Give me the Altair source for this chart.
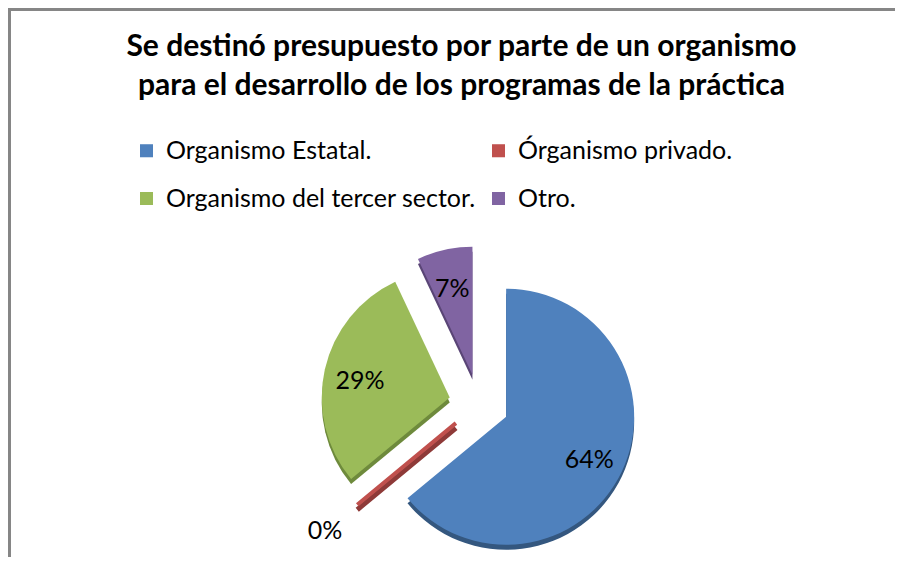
import altair as alt
import pandas as pd

# ---- data ----
categories = ["Organismo Estatal.", "Órganismo privado.", "Organismo del tercer sector.", "Otro."]
values = [64, 0, 29, 7]
labels = ["64%", "0%", "29%", "7%"]
colors = ["#4F81BD", "#C0504D", "#9BBB59", "#8064A2"]
shades = ["#34577F", "#8E3A38", "#6E8A3C", "#5A4576"]

title_lines = [
    "Se destinó presupuesto por parte de un organismo",
    "para el desarrollo de los programas de la práctica",
]

df = pd.DataFrame({
    "cat": categories,
    "value": values,
    "label": labels,
    "idx": list(range(len(categories))),
    "fillc": colors,
    "shade": shades,
})

# ---- layout / style ----
W, H = 887, 549
CX, CY = 471, 396
R = 128
EXPLODE = 30
LABEL_R = 92
OUT_R = 200
DEPTH = 5

base = (
    alt.Chart(df)
    .transform_window(cum="sum(value)", sort=[alt.SortField("idx")], frame=[None, 0])
    .transform_joinaggregate(total="sum(value)")
    .transform_calculate(
        t1="2*PI*datum.cum/datum.total",
        t0="2*PI*(datum.cum-datum.value)/datum.total",
    )
    .transform_calculate(mid="(datum.t0+datum.t1)/2")
    .transform_calculate(
        px=f"{CX}+{EXPLODE}*sin(datum.mid)",
        py=f"{CY}-{EXPLODE}*cos(datum.mid)",
    )
    .transform_calculate(
        pyd=f"datum.py+{DEPTH}",
        lx=f"datum.value>0 ? datum.px+{LABEL_R}*sin(datum.mid) : {CX}+{OUT_R}*sin(datum.mid)",
        ly=f"datum.value>0 ? datum.py-{LABEL_R}*cos(datum.mid)+4 : {CY}-{OUT_R}*cos(datum.mid)",
    )
)

color_scale = alt.Scale(domain=categories, range=colors)
zero_width = alt.condition("datum.value == 0", alt.value(5), alt.value(0))

pos = dict(
    x=alt.X("px:Q", scale=None, axis=None),
    theta=alt.Theta("t0:Q", scale=None),
    theta2="t1:Q",
)

depth = base.mark_arc(radius=R).encode(
    y=alt.Y("pyd:Q", scale=None, axis=None),
    fill=alt.Fill("shade:N", scale=None, legend=None),
    stroke=alt.Stroke("shade:N", scale=None, legend=None),
    strokeWidth=zero_width,
    **pos,
)

slices = base.mark_arc(radius=R).encode(
    y=alt.Y("py:Q", scale=None, axis=None),
    color=alt.Color(
        "cat:N",
        scale=color_scale,
        sort=categories,
        legend=alt.Legend(
            title=None,
            orient="none",
            direction="horizontal",
            legendX=126,
            legendY=130,
            columns=2,
            symbolType="square",
            symbolSize=170,
            symbolStrokeWidth=0,
            symbolOpacity=1,
            labelFont="Lato",
            labelFontSize=25,
            labelColor="black",
            labelLimit=500,
            labelOffset=7,
            rowPadding=22,
            columnPadding=10,
        ),
    ),
    order=alt.Order("idx:Q"),
    **pos,
)

zero_edge = base.mark_arc(radius=R, fillOpacity=0).encode(
    y=alt.Y("py:Q", scale=None, axis=None),
    stroke=alt.Stroke("fillc:N", scale=None, legend=None),
    strokeWidth=alt.condition("datum.value == 0", alt.value(4), alt.value(0)),
    **pos,
)

text = base.mark_text(font="Lato", fontSize=25, color="black", align="center", baseline="middle").encode(
    x=alt.X("lx:Q", scale=None, axis=None),
    y=alt.Y("ly:Q", scale=None, axis=None),
    text="label:N",
)

frame = pd.DataFrame({"a": [0]})
border_top = alt.Chart(frame).mark_rule(stroke="#868686", strokeWidth=3).encode(
    x=alt.value(0), x2=alt.value(W), y=alt.value(1.5)
)
border_left = alt.Chart(frame).mark_rule(stroke="#868686", strokeWidth=3).encode(
    x=alt.value(1.5), y=alt.value(0), y2=alt.value(H)
)

chart = (
    alt.layer(border_top, border_left, depth, slices, zero_edge, text)
    .resolve_scale(color="independent", fill="independent", stroke="independent")
    .properties(
        width=W,
        height=H,
        padding=0,
        autosize=alt.AutoSizeParams(type="none"),
        title=alt.TitleParams(
            text=title_lines,
            font="Lato",
            fontSize=30,
            fontWeight="bold",
            color="black",
            anchor="middle",
            baseline="top",
            offset=-94,
            lineHeight=39,
            dx=10,
        ),
    )
    .configure_view(strokeWidth=0, stroke="transparent")
    .configure(background="white")
)

chart.save("out.html", embed_options={"renderer": "svg", "actions": False})
